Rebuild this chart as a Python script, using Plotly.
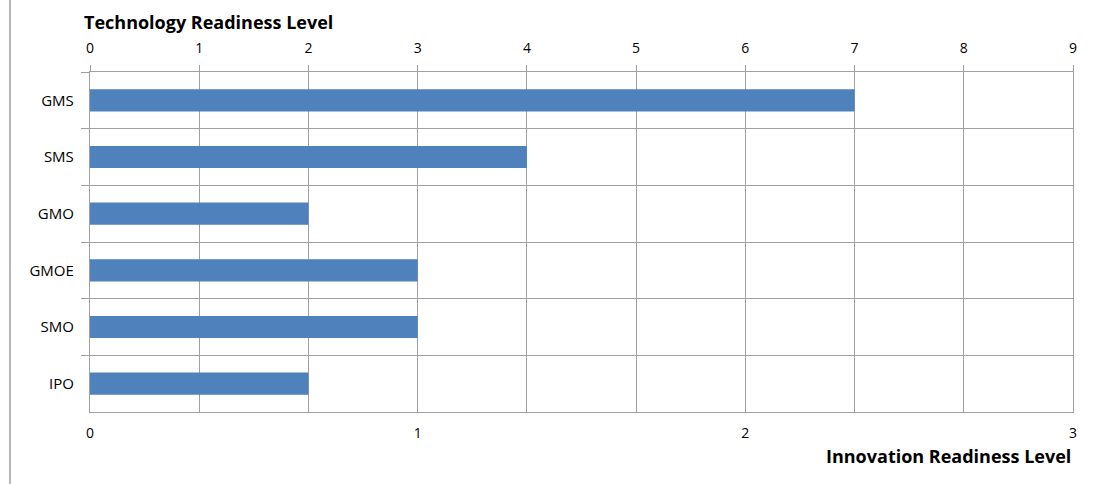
import plotly.graph_objects as go

categories = ["GMS", "SMS", "GMO", "GMOE", "SMO", "IPO"]
trl_values = [7, 4, 2, 3, 3, 2]
trl_ticks = [0, 1, 2, 3, 4, 5, 6, 7, 8, 9]
irl_ticks = [0, 1, 2, 3]

W, H = 1106, 484
L, R, T, B = 90, 33, 72, 72
pw, ph = W - L - R, H - T - B

grid = "#a0a0a0"
font_family = "Open Sans, Liberation Sans, sans-serif"

fig = go.Figure()
fig.add_trace(go.Bar(
    y=categories, x=trl_values, orientation="h",
    xaxis="x2", yaxis="y",
    marker=dict(color="#4f81bd", line=dict(width=0)),
    width=0.39, showlegend=False,
))
# invisible trace to activate bottom axis
fig.add_trace(go.Scatter(x=[0, 3], y=[categories[0], categories[0]], xaxis="x", yaxis="y",
                         mode="markers", marker=dict(opacity=0), showlegend=False, hoverinfo="skip"))

fig.update_layout(
    width=W, height=H,
    margin=dict(l=L, r=R, t=T, b=B),
    paper_bgcolor="white", plot_bgcolor="white",
    font=dict(family=font_family, size=14, color="#000000"),
    xaxis=dict(
        range=[0, 3], tickvals=irl_ticks, ticktext=[str(v) for v in irl_ticks],
        showgrid=False, zeroline=False, showline=False, ticks="",
        side="bottom", ticklabelstandoff=11,
        tickfont=dict(size=14),
    ),
    xaxis2=dict(
        range=[0, 9], tickvals=trl_ticks, ticktext=[str(v) for v in trl_ticks],
        overlaying="x", side="top", anchor="y",
        showgrid=True, gridcolor=grid, gridwidth=1.3,
        zeroline=False, showline=True, linecolor=grid, linewidth=1.3, mirror=True,
        ticks="outside", ticklen=6, tickcolor=grid, tickwidth=1.3,
        ticklabelstandoff=6,
        tickfont=dict(size=14),
    ),
    yaxis=dict(
        categoryorder="array", categoryarray=categories, autorange="reversed",
        tickson="boundaries", showgrid=True, gridcolor=grid, gridwidth=1.3,
        ticks="outside", ticklen=8, tickcolor=grid, tickwidth=1.3,
        showline=True, linecolor=grid, linewidth=1.3, mirror=True,
        zeroline=False, ticklabelstandoff=12,
        tickfont=dict(size=15),
    ),
    annotations=[
        dict(text="<b>Technology Readiness Level</b>", xref="paper", yref="paper",
             x=(82 - L) / pw, y=1 + (T - 22) / ph, xanchor="left", yanchor="middle",
             showarrow=False, font=dict(size=18, family=font_family)),
        dict(text="<b>Innovation Readiness Level</b>", xref="paper", yref="paper",
             x=1, y=-(456 - (H - B)) / ph, xanchor="right", yanchor="middle",
             showarrow=False, font=dict(size=18, family=font_family)),
    ],
    shapes=[
        dict(type="line", xref="paper", yref="paper",
             x0=(10 - L) / pw, x1=(10 - L) / pw, y0=-B / ph, y1=1 + T / ph,
             line=dict(color="#909090", width=1.3)),
    ],
)

fig.write_html("out.html", config={"displayModeBar": False},
               post_script="document.body.style.margin='0';document.body.style.padding='0';")
